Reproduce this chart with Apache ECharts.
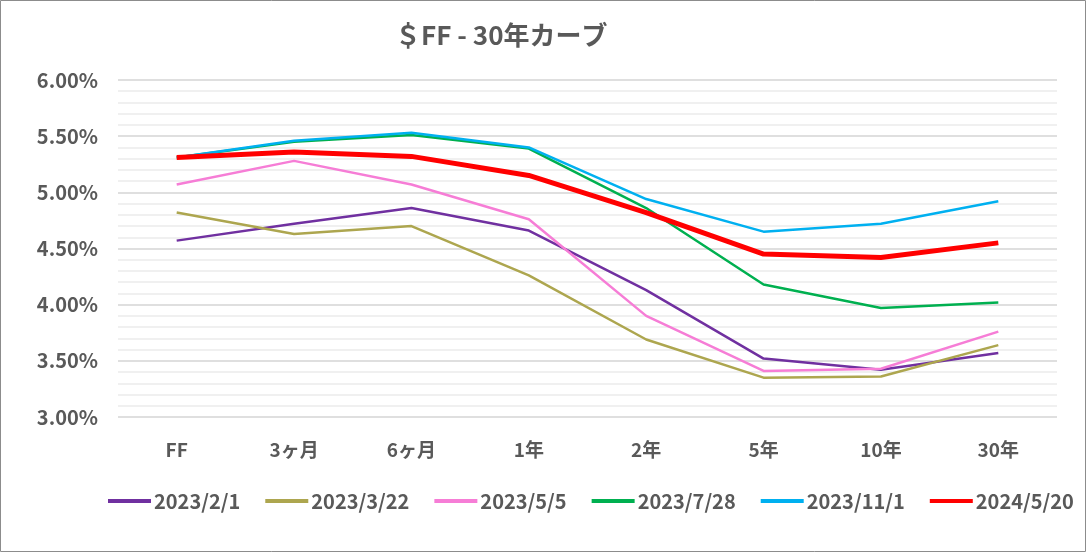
<!DOCTYPE html>
<html><head><meta charset="utf-8">
<script src="https://cdn.jsdelivr.net/npm/echarts@6/dist/echarts.min.js"></script>
<style>html,body{margin:0;padding:0;background:#fff;}#c{width:1086px;height:552px;}</style>
</head><body><div id="c"></div>
<script>
const categories = ['FF','3ヶ月','6ヶ月','1年','2年','5年','10年','30年'];
const seriesNames = ['2023/2/1','2023/3/22','2023/5/5','2023/7/28','2023/11/1','2024/5/20'];
const s20230201 = [4.57,4.72,4.86,4.66,4.13,3.52,3.42,3.57];
const s20230322 = [4.82,4.63,4.70,4.26,3.69,3.35,3.36,3.64];
const s20230505 = [5.07,5.28,5.07,4.76,3.90,3.41,3.43,3.76];
const s20230728 = [5.31,5.45,5.51,5.39,4.86,4.18,3.97,4.02];
const s20231101 = [5.31,5.46,5.53,5.40,4.94,4.65,4.72,4.92];
const s20240520 = [5.31,5.36,5.32,5.15,4.82,4.45,4.42,4.55];
const yTicks = {min:3, max:6, interval:0.5};

const colors = ['#7030A0','#ADA64F','#F67DD6','#00B050','#00B0F0','#FF0000'];
const widths = [2.5,2.5,2.5,2.5,2.5,5];
const allData = [s20230201,s20230322,s20230505,s20230728,s20231101,s20240520];
const font = '"Noto Sans CJK JP", "Noto Sans", sans-serif';

const chart = echarts.init(document.getElementById('c'), null, {renderer:'canvas'});
chart.setOption({
  animation:false,
  backgroundColor:'#fff',
  title:{text:'＄FF - 30年カーブ', left:390, top:17,
    textStyle:{fontFamily:font, fontSize:26, fontWeight:'bold', color:'#595959'}},
  graphic:[{type:'rect', shape:{x:0.5,y:0.5,width:1085,height:551}, style:{fill:'none', stroke:'#8c8c8c', lineWidth:1}, silent:true}],
  legend:{bottom:36, left:103, itemWidth:43, itemHeight:4, itemGap:25, icon:'rect',
    textStyle:{fontFamily:font, fontSize:20, fontWeight:'bold', color:'#595959', padding:[0,0,0,-2]},
    data:seriesNames},
  grid:{left:118, right:29, top:80, bottom:135, containLabel:false},
  xAxis:{type:'category', data:categories, boundaryGap:true,
    axisLine:{show:false}, axisTick:{show:false},
    axisLabel:{margin:23, fontFamily:font, fontSize:19, fontWeight:'bold', color:'#595959'}},
  yAxis:{type:'value', min:yTicks.min, max:yTicks.max, interval:yTicks.interval,
    axisLine:{show:false}, axisTick:{show:false},
    axisLabel:{margin:20, fontFamily:font, fontSize:20, fontWeight:'bold', color:'#595959',
      formatter:v=>v.toFixed(2)+'%'},
    splitLine:{lineStyle:{color:'#D4D4D4', width:1.5}},
    minorTick:{show:false, splitNumber:5},
    minorSplitLine:{show:true, lineStyle:{color:'#EBEBEB', width:1.5}}},
  series: seriesNames.map((n,i)=>({
    name:n, type:'line', data:allData[i], symbol:'none', showSymbol:false,
    lineStyle:{color:colors[i], width:widths[i]}, itemStyle:{color:colors[i]},
    z: i===5 ? 10 : 2+i
  }))
});
</script></body></html>
